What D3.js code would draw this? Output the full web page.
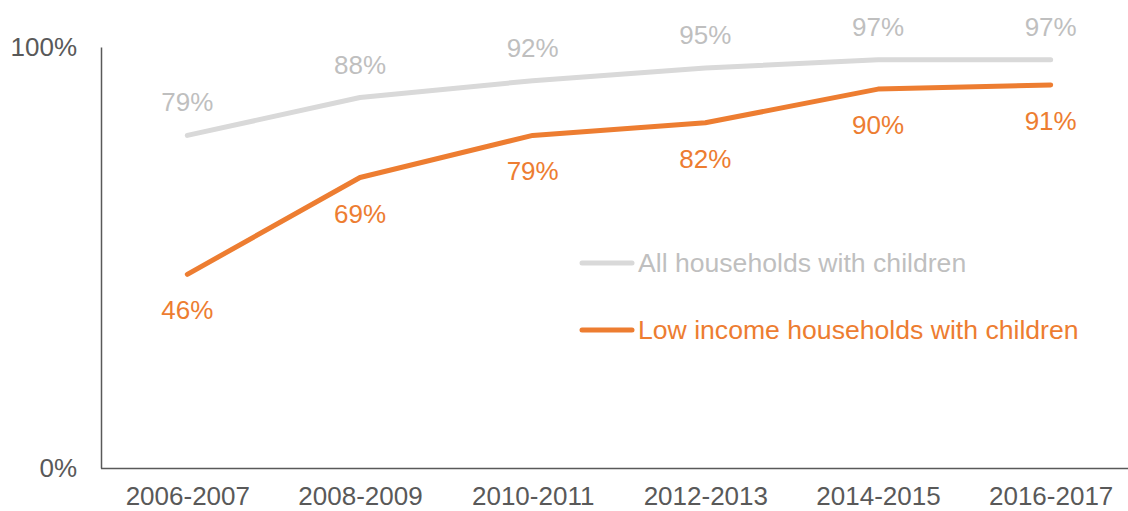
<!DOCTYPE html>
<html><head><meta charset="utf-8">
<script src="https://cdn.jsdelivr.net/npm/d3@7"></script>
<style>body{margin:0;background:#fff}svg{display:block}text{font-family:"Liberation Sans",Arial,sans-serif}</style>
</head><body>
<svg id="c" width="1128" height="511"></svg>
<script>
const categories = ["2006-2007","2008-2009","2010-2011","2012-2013","2014-2015","2016-2017"];
const allHouseholds = [79, 88, 92, 95, 97, 97];
const lowIncome = [46, 69, 79, 82, 90, 91];
const yTicks = [0, 100];
const seriesNames = ["All households with children", "Low income households with children"];

const svg = d3.select("#c");
const x0 = 101, x1 = 1137, yBottom = 468, yTop = 47;
const x = d3.scalePoint().domain(categories).range([x0, x1]).padding(0.5);
const y = d3.scaleLinear().domain([0, 100]).range([yBottom, yTop]);

const axisColor = "#595959";
const yAxis = svg.append("g").attr("transform", `translate(${x0},0)`)
  .call(d3.axisLeft(y).tickValues(yTicks).tickSize(0).tickPadding(24).tickFormat(d => d + "%"));
const xAxis = svg.append("g").attr("transform", `translate(0,${yBottom})`)
  .call(d3.axisBottom(x).tickSize(0).tickPadding(19));
xAxis.select(".domain").attr("d", `M${x0},0.5H1128`);
[yAxis, xAxis].forEach(g => {
  g.select(".domain").attr("stroke", axisColor).attr("stroke-width", 1.5);
  g.selectAll("text").attr("font-size", 26).attr("fill", axisColor)
    .attr("font-family", '"Liberation Sans",Arial,sans-serif');
});

const line = d3.line().x((d, i) => x(categories[i])).y(d => y(d));
const series = [
  {name: seriesNames[0], values: allHouseholds, color: "#d9d9d9", text: "#bfbfbf", dy: -33},
  {name: seriesNames[1], values: lowIncome, color: "#ed7d31", text: "#ed7d31", dy: 36}
];
series.forEach(s => {
  svg.append("path").datum(s.values).attr("d", line)
    .attr("fill", "none").attr("stroke", s.color).attr("stroke-width", 5)
    .attr("stroke-linecap", "round").attr("stroke-linejoin", "round");
  svg.append("g").selectAll("text").data(s.values).join("text")
    .attr("x", (d, i) => x(categories[i]))
    .attr("y", d => y(d) + s.dy)
    .attr("text-anchor", "middle").attr("dominant-baseline", "central")
    .attr("font-size", 26).attr("fill", s.text)
    .text(d => d + "%");
});

const legendY = [263, 330];
series.forEach((s, i) => {
  const g = svg.append("g");
  g.append("line").attr("x1", 582).attr("x2", 632).attr("y1", legendY[i]).attr("y2", legendY[i])
    .attr("stroke", s.color).attr("stroke-width", 5).attr("stroke-linecap", "round");
  g.append("text").attr("x", 638).attr("y", legendY[i]).attr("dominant-baseline", "central")
    .attr("font-size", 26.6).attr("fill", s.text).text(s.name);
});
</script>
</body></html>
